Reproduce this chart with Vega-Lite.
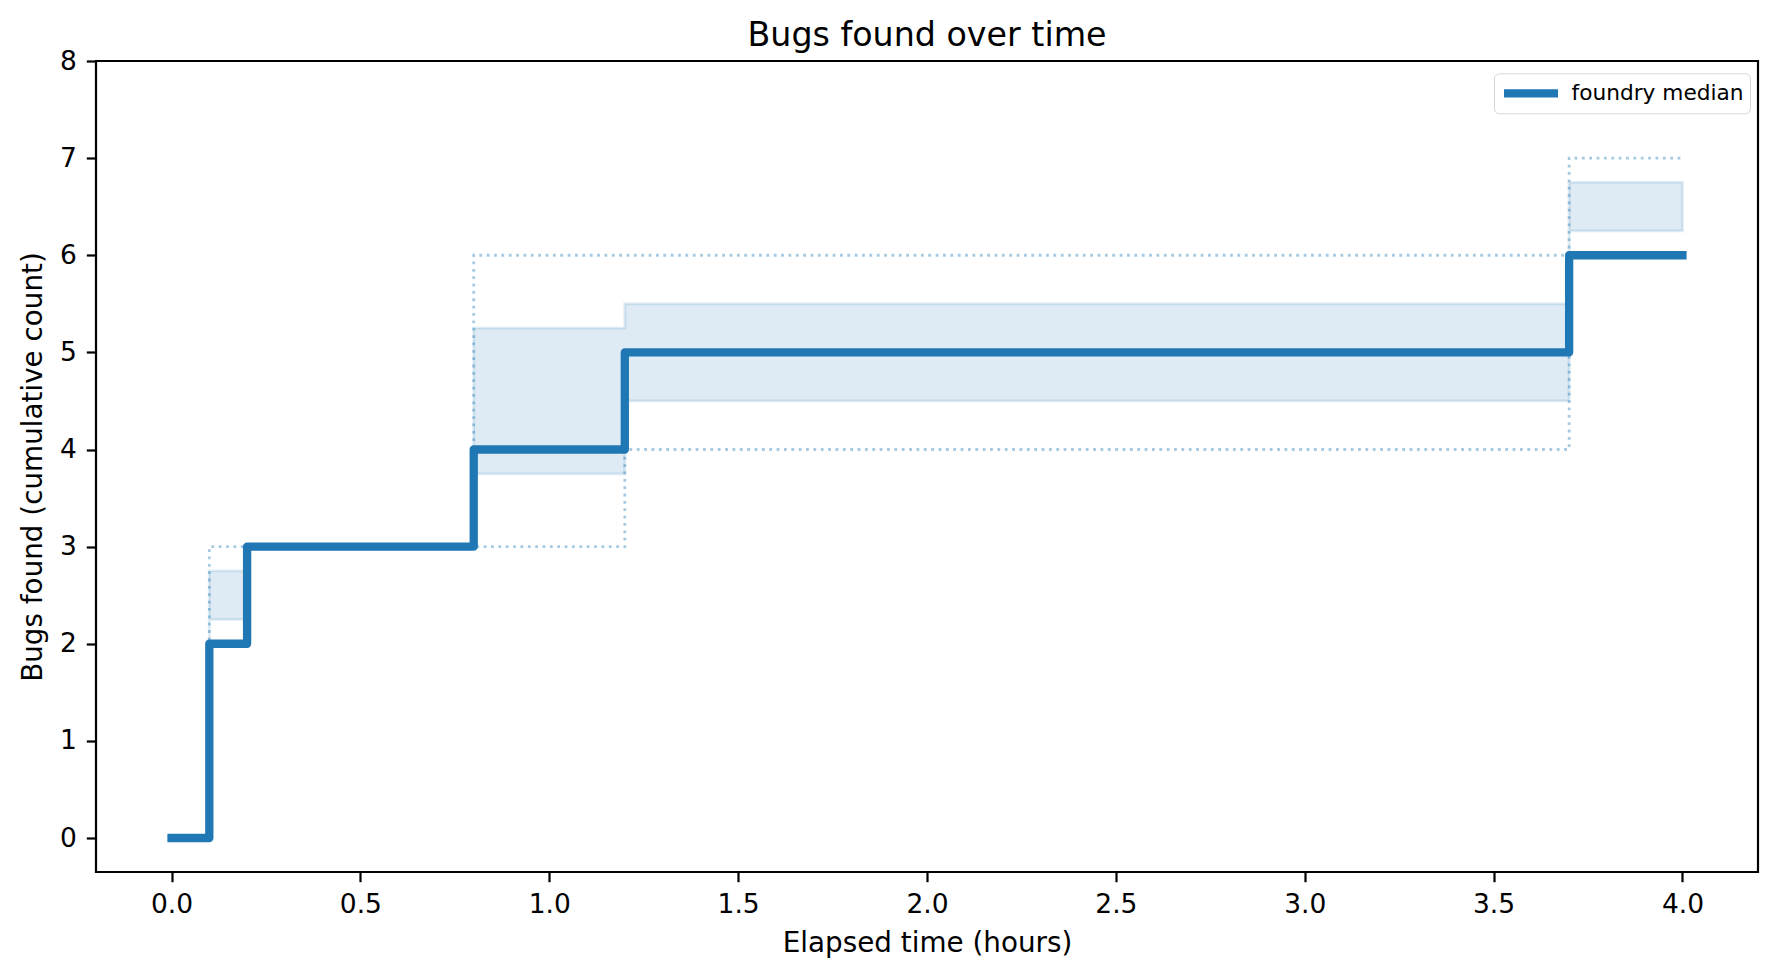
{
  "$schema": "https://vega.github.io/schema/vega-lite/v6.json",
  "width": 1662,
  "height": 811,
  "autosize": {"type": "none"},
  "padding": {"left": 96, "top": 61, "right": 21, "bottom": 106},
  "background": "white",
  "title": {"text": "Bugs found over time", "font": "DejaVu Sans", "fontSize": 33.3, "fontWeight": "normal", "color": "black", "anchor": "middle", "frame": "group", "baseline": "alphabetic", "offset": 17, "dy": 48.5},
  "data": {
    "values": [
      {"t": 0.0, "median": 0, "q25": 0, "q75": 0, "lo": 0, "hi": 0},
      {"t": 0.1, "median": 2, "q25": 2.25, "q75": 2.75, "lo": 2, "hi": 3},
      {"t": 0.2, "median": 3, "q25": 3, "q75": 3, "lo": 3, "hi": 3},
      {"t": 0.8, "median": 4, "q25": 3.75, "q75": 5.25, "lo": 3, "hi": 6},
      {"t": 1.2, "median": 5, "q25": 4.5, "q75": 5.5, "lo": 4, "hi": 6},
      {"t": 3.7, "median": 6, "q25": 6.25, "q75": 6.75, "lo": 6, "hi": 7},
      {"t": 4.0, "median": 6, "q25": 6.25, "q75": 6.75, "lo": 6, "hi": 7}
    ]
  },
  "encoding": {
    "x": {
      "field": "t", "type": "quantitative",
      "scale": {"domain": [-0.2, 4.2], "nice": false, "zero": false},
      "axis": {"title": "Elapsed time (hours)", "values": [0, 0.5, 1, 1.5, 2, 2.5, 3, 3.5, 4], "format": ".1f", "titlePadding": 11}
    }
  },
  "layer": [
    {
      "mark": {"type": "area", "interpolate": "step-after", "color": "#1f77b4", "fillOpacity": 0.15, "stroke": "#1f77b4", "strokeOpacity": 0.15, "strokeWidth": 2.8},
      "encoding": {
        "y": {"field": "q25", "type": "quantitative", "scale": {"domain": [-0.35, 8], "nice": false, "zero": false}, "axis": {"title": "Bugs found (cumulative count)", "values": [0, 1, 2, 3, 4, 5, 6, 7, 8], "format": "d", "titlePadding": 12}},
        "y2": {"field": "q75"}
      }
    },
    {
      "mark": {"type": "line", "interpolate": "step-after", "color": "#1f77b4", "opacity": 0.4, "strokeWidth": 2.78, "strokeDash": [2.78, 4.58], "strokeCap": "butt"},
      "encoding": {
        "y": {"field": "lo", "type": "quantitative", "axis": {"title": "Bugs found (cumulative count)", "values": [0, 1, 2, 3, 4, 5, 6, 7, 8], "format": "d", "titlePadding": 12}}
      }
    },
    {
      "mark": {"type": "line", "interpolate": "step-after", "color": "#1f77b4", "opacity": 0.4, "strokeWidth": 2.78, "strokeDash": [2.78, 4.58], "strokeCap": "butt"},
      "encoding": {
        "y": {"field": "hi", "type": "quantitative", "axis": {"title": "Bugs found (cumulative count)", "values": [0, 1, 2, 3, 4, 5, 6, 7, 8], "format": "d", "titlePadding": 12}}
      }
    },
    {
      "mark": {"type": "line", "interpolate": "step-after", "strokeWidth": 8.3, "strokeCap": "square", "strokeJoin": "round", "opacity": 1},
      "encoding": {
        "y": {"field": "median", "type": "quantitative", "axis": {"title": "Bugs found (cumulative count)", "values": [0, 1, 2, 3, 4, 5, 6, 7, 8], "format": "d", "titlePadding": 12}},
        "color": {
          "datum": "foundry median",
          "type": "nominal",
          "scale": {"range": ["#1f77b4"]},
          "legend": {
            "title": null,
            "orient": "none",
            "legendX": 1398,
            "legendY": 12.3,
            "symbolType": "stroke",
            "symbolSize": 2916,
            "symbolStrokeWidth": 8.3,
            "symbolOpacity": 1,
            "symbolStrokeColor": "#1f77b4",
            "clipHeight": 29,
            "labelOffset": 9,
            "labelLimit": 400,
            "labelFont": "DejaVu Sans",
            "labelFontSize": 21.7,
            "labelColor": "black",
            "padding": 5.5,
            "strokeColor": "#d6d6d6",
            "fillColor": "white",
            "cornerRadius": 5
          }
        }
      }
    }
  ],
  "config": {
    "view": {"stroke": "black", "strokeWidth": 2.2},
    "axis": {
      "domain": false,
      "grid": false,
      "ticks": true,
      "tickSize": 9.7,
      "tickWidth": 2.2,
      "tickColor": "black",
      "labelPadding": 10,
      "labelFont": "DejaVu Sans",
      "labelFontSize": 26.5,
      "labelColor": "black",
      "labelFlush": false,
      "labelOverlap": false,
      "titleFont": "DejaVu Sans",
      "titleFontSize": 27.8,
      "titleFontWeight": "normal",
      "titleColor": "black"
    }
  }
}
